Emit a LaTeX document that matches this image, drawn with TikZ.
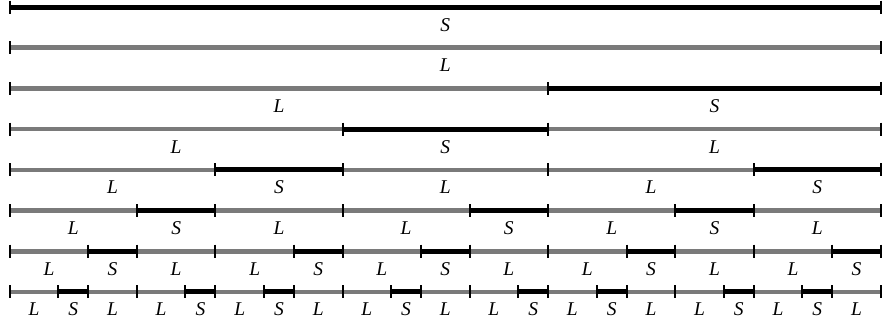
\documentclass[tikz,border=0pt]{standalone}
\usepackage{fontspec}
\setmainfont{Liberation Serif}
\definecolor{barGray}{RGB}{122,122,122}
\tikzset{
  barL/.style={draw=barGray,line width=4.6pt},
  barS/.style={draw=black,line width=5pt},
  tickmark/.style={draw=black,line width=2pt},
  lab/.style={anchor=base,inner sep=0pt,font=\fontsize{19.5}{20}\selectfont\itshape}
}
\def\W{871}
\def\xo{9.8}
\def\Lc{L}
\newcommand\tilerow[3]{%
  \xdef\curx{\xo}%
  \foreach \t [count=\i] in {#3} {%
    \ifx\t\Lc
      \pgfmathsetmacro\len{\W/(1.6180339887^(#2-1))}\def\col{barL}%
    \else
      \pgfmathsetmacro\len{\W/(1.6180339887^(#2))}\def\col{barS}%
    \fi
    \pgfmathsetmacro\nx{\curx+\len}%
    \path[\col] (\curx,#1) -- (\nx,#1);
    \path[tickmark] (\curx,{#1-6.5}) -- (\curx,{#1+6.5});
    \node[lab] (r#2t\i) at ({(\curx+\nx)/2},{#1+24}) {\t};
    \xdef\curx{\nx}%
  }%
  \path[tickmark] (\curx,{#1-6.5}) -- (\curx,{#1+6.5});
}
\begin{document}
\begin{tikzpicture}[x=1pt,y=-1pt]
\useasboundingbox (0,0) rectangle (882,322);
\tilerow{7}{0}{S}
\tilerow{47.7}{1}{L}
\tilerow{88.4}{2}{L,S}
\tilerow{129.1}{3}{L,S,L}
\tilerow{169.8}{4}{L,S,L,L,S}
\tilerow{210.5}{5}{L,S,L,L,S,L,S,L}
\tilerow{251.2}{6}{L,S,L,L,S,L,S,L,L,S,L,L,S}
\tilerow{291.9}{7}{L,S,L,L,S,L,S,L,L,S,L,L,S,L,S,L,L,S,L,S,L}
\end{tikzpicture}
\end{document}
